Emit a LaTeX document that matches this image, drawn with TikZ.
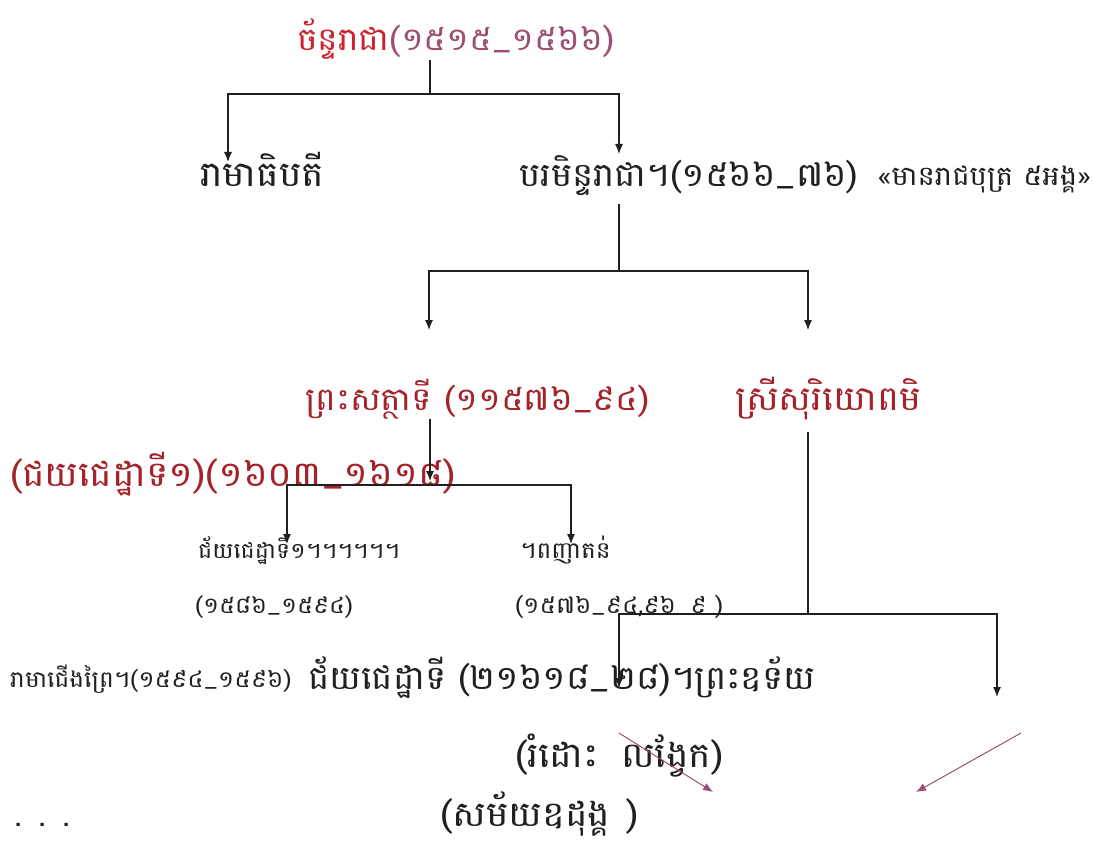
\documentclass[tikz,border=0pt]{standalone}
\usepackage{fontspec}
\newfontfamily\khmer[Script=Khmer, FakeStretch=1.08]{Battambang}
\usetikzlibrary{arrows.meta}
\definecolor{kred}{HTML}{D0222D}
\definecolor{kdark}{HTML}{A4232A}
\definecolor{kmauve}{HTML}{9C4E74}
\definecolor{kink}{HTML}{231F20}
\newcommand{\kh}[1]{\khmer\fontsize{#1}{#1}\selectfont}
\tikzset{
  king/.style={anchor=base west, inner sep=0pt, text=kink},
  line/.style={kink, line width=1.1pt},
  arr/.style={line, -{Latex[length=10pt,width=8pt]}},
  marr/.style={kmauve, line width=1pt, -{Latex[length=10pt,width=8pt]}}
}
\begin{document}
\begin{tikzpicture}[x=1pt,y=-1pt]
\useasboundingbox (0,0) rectangle (1093,845);
% Kings
\node[king, font=\kh{32}, text=kred] (chan) at (297,51) {ច័ន្ទរាជា\textcolor{kmauve}{(១៥១៥\_១៥៦៦)}};
\node[king, font=\kh{35}] (rama) at (200,187) {រាមាធិបតី};
\node[king, font=\kh{33}] (param) at (519,187) {បរមិន្ទរាជា។(១៥៦៦\_៧៦)};
\node[king, font=\kh{27}] (note) at (878,186) {«មានរាជបុត្រ ៥អង្គ»};
\node[king, font=\kh{32}, text=kdark] (sat) at (305,410) {ព្រះសត្ថាទី (១១៥៧៦\_៩៤)};
\node[king, font=\kh{34}, text=kdark] (sri) at (735,410) {ស្រីសុរិយោពមិ};
\node[king, font=\kh{35}, text=kdark] (jaya) at (10,486) {(ជយជេដ្ឋាទី១)(១៦០៣\_១៦១៨)};
\node[king, font=\kh{22}] (jayaone) at (198,558) {ជ័យជេដ្ឋាទី១។។។។។។};
\node[king, font=\kh{22.5}] (jayadate) at (195,613) {(១៥៨៦\_១៥៩៤)};
\node[king, font=\kh{23}] (ponh) at (520,558) {។ពញាតន់};
\node[king, font=\kh{23}] (ponhdate) at (515,613) {(១៥៧៦\_៩៤,៩៦\_៩ )};
\node[king, font=\kh{23}] (ramajoeng) at (10,687) {រាមាជើងព្រៃ។(១៥៩៤\_១៥៩៦)};
\node[king, font=\kh{33}] (jayatwo) at (308,689) {ជ័យជេដ្ឋាទី  (២១៦១៨\_២៨)។ព្រះឧទ័យ};
\node[king, font=\kh{35}] (lovek) at (515,767) {(រំដោះ\hspace{22pt}លង្វែក)};
\node[king, font=\kh{35}] (oudong) at (440,826) {(សម័យឧដុង្គ\hspace{16pt})};
\node[king, font=\kh{32}] (dots) at (14,826) {. . .};

% Junctions and arrow tips
\coordinate (j1) at (430,94);
\coordinate (j2) at (619,271);
\coordinate (j3) at (430,481);
\coordinate (j3b) at (430,485);
\coordinate (j4) at (808,614);

% Connections
\draw[line] (chan.south -| j1) -- (j1);
\draw[arr] (j1) -| (228,162);
\draw[arr] (j1) -| (619,154);
\draw[line, shorten <=8pt] (param.south -| j2) -- (j2);
\draw[arr] (j2) -| (429,330);
\draw[arr] (j2) -| (808,330);
\draw[arr] (sat.south -| j3) -- (j3);
\draw[arr] (j3b) -| (287,544);
\draw[arr] (j3b) -| (571,544);
\draw[line, shorten <=12pt] (sri.south -| j4) -- (j4);
\draw[arr] (j4) -| (619,688);
\draw[arr] (j4) -| (997,697);
\draw[marr] (619,733) -- (713,792);
\draw[marr] (1021,733) -- (916,792);
\end{tikzpicture}
\end{document}
